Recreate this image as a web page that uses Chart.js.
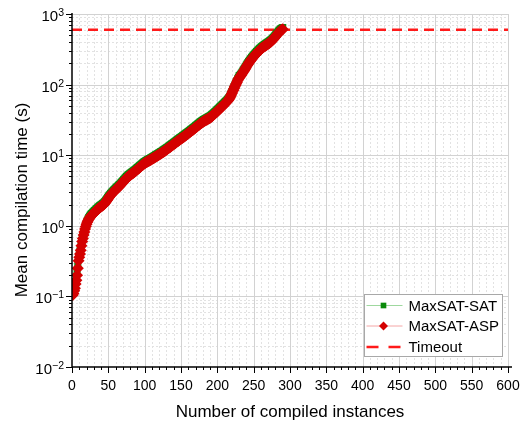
<!DOCTYPE html>
<html>
<head>
<meta charset="utf-8">
<script src="https://cdn.jsdelivr.net/npm/chart.js@4.4.1/dist/chart.umd.min.js"></script>
<style>
  html, body { margin: 0; padding: 0; background: #fff; }
</style>
</head>
<body>
<canvas id="cactus" width="521" height="425"></canvas>
<script>
// mean compilation time (s) per instance, sorted ascending (cactus plot)
const satTimes = [
  0.11, 0.12, 0.13, 0.14, 0.16, 0.19, 0.22, 0.27, 0.34, 0.39,
  0.44, 0.5, 0.57, 0.65, 0.72, 0.8, 0.88, 0.96, 1.04, 1.12,
  1.19, 1.25, 1.31, 1.36, 1.41, 1.45, 1.49, 1.53, 1.57, 1.61,
  1.64, 1.68, 1.72, 1.76, 1.8, 1.84, 1.88, 1.92, 1.95, 1.99,
  2.02, 2.06, 2.1, 2.15, 2.2, 2.27, 2.35, 2.43, 2.52, 2.61,
  2.7, 2.78, 2.86, 2.94, 3.02, 3.1, 3.18, 3.26, 3.34, 3.42,
  3.5, 3.58, 3.66, 3.75, 3.84, 3.93, 4.03, 4.14, 4.25, 4.37,
  4.5, 4.62, 4.75, 4.87, 5.0, 5.11, 5.22, 5.33, 5.43, 5.53,
  5.63, 5.73, 5.83, 5.94, 6.05, 6.16, 6.28, 6.41, 6.55, 6.68,
  6.82, 6.96, 7.1, 7.25, 7.4, 7.55, 7.7, 7.85, 8.0, 8.14,
  8.27, 8.4, 8.52, 8.63, 8.75, 8.86, 8.98, 9.1, 9.22, 9.35,
  9.49, 9.63, 9.78, 9.92, 10.1, 10.2, 10.4, 10.5, 10.7, 10.8,
  11.0, 11.2, 11.3, 11.5, 11.7, 11.9, 12.1, 12.3, 12.5, 12.7,
  12.9, 13.1, 13.4, 13.6, 13.9, 14.1, 14.4, 14.6, 14.9, 15.2,
  15.4, 15.7, 16.0, 16.3, 16.6, 16.9, 17.2, 17.5, 17.8, 18.1,
  18.4, 18.8, 19.1, 19.4, 19.8, 20.1, 20.5, 20.9, 21.2, 21.6,
  22.0, 22.4, 22.9, 23.3, 23.7, 24.2, 24.6, 25.1, 25.6, 26.1,
  26.6, 27.1, 27.7, 28.2, 28.7, 29.3, 29.8, 30.3, 30.9, 31.4,
  31.9, 32.3, 32.8, 33.2, 33.6, 34.0, 34.5, 35.0, 35.5, 36.0,
  36.7, 37.4, 38.2, 39.0, 39.9, 40.7, 41.6, 42.5, 43.5, 44.5,
  45.6, 46.6, 47.7, 48.9, 50.0, 51.2, 52.4, 53.6, 54.9, 56.2,
  57.6, 59.0, 60.4, 62.0, 63.6, 65.7, 68.4, 71.6, 75.3, 79.5,
  83.7, 88.5, 93.3, 98.6, 104, 109, 114, 121, 127, 134,
  136, 140, 145, 150, 156, 162, 169, 175, 182, 190,
  197, 205, 212, 219, 227, 234, 242, 249, 257, 264,
  271, 279, 286, 294, 301, 308, 316, 323, 331, 338,
  345, 352, 358, 365, 371, 377, 384, 390, 396, 403,
  409, 417, 424, 433, 442, 453, 464, 477, 491, 506,
  521, 537, 553, 569, 585, 600, 613, 624, 634, 642
];

const aspTimes = [
  0.105, 0.11, 0.12, 0.13, 0.15, 0.17, 0.2, 0.25, 0.32, 0.36,
  0.4, 0.45, 0.52, 0.6, 0.66, 0.74, 0.82, 0.9, 0.98, 1.05,
  1.12, 1.18, 1.24, 1.28, 1.33, 1.37, 1.41, 1.45, 1.48, 1.52,
  1.55, 1.58, 1.62, 1.66, 1.7, 1.73, 1.77, 1.8, 1.84, 1.87,
  1.9, 1.94, 1.98, 2.02, 2.07, 2.13, 2.2, 2.28, 2.36, 2.45,
  2.54, 2.62, 2.7, 2.78, 2.86, 2.93, 3.0, 3.07, 3.15, 3.22,
  3.3, 3.37, 3.45, 3.53, 3.62, 3.7, 3.8, 3.9, 4.0, 4.12,
  4.24, 4.36, 4.48, 4.6, 4.72, 4.83, 4.93, 5.03, 5.12, 5.22,
  5.31, 5.4, 5.5, 5.6, 5.7, 5.81, 5.93, 6.05, 6.18, 6.3,
  6.43, 6.56, 6.7, 6.84, 6.98, 7.12, 7.26, 7.4, 7.54, 7.68,
  7.8, 7.92, 8.03, 8.14, 8.25, 8.36, 8.47, 8.58, 8.7, 8.82,
  8.95, 9.08, 9.22, 9.36, 9.5, 9.64, 9.78, 9.92, 10.1, 10.2,
  10.4, 10.5, 10.7, 10.9, 11.0, 11.2, 11.4, 11.6, 11.8, 12.0,
  12.2, 12.4, 12.6, 12.9, 13.1, 13.3, 13.6, 13.8, 14.1, 14.3,
  14.6, 14.8, 15.1, 15.4, 15.7, 15.9, 16.2, 16.5, 16.8, 17.1,
  17.4, 17.7, 18.0, 18.3, 18.6, 19.0, 19.3, 19.7, 20.0, 20.4,
  20.8, 21.2, 21.6, 22.0, 22.4, 22.8, 23.2, 23.7, 24.1, 24.6,
  25.1, 25.6, 26.1, 26.6, 27.1, 27.6, 28.1, 28.6, 29.1, 29.6,
  30.1, 30.5, 30.9, 31.3, 31.7, 32.1, 32.5, 33.0, 33.5, 34.0,
  34.6, 35.3, 36.0, 36.8, 37.6, 38.4, 39.2, 40.1, 41.0, 42.0,
  43.0, 44.0, 45.0, 46.1, 47.2, 48.3, 49.4, 50.6, 51.8, 53.0,
  54.3, 55.6, 57.0, 58.5, 60.0, 62.0, 64.5, 67.5, 71.0, 75.0,
  79.0, 83.5, 88.0, 93.0, 98.0, 103, 108, 114, 120, 124,
  128, 132, 137, 142, 147, 153, 159, 165, 172, 179,
  186, 193, 200, 207, 214, 221, 228, 235, 242, 249,
  256, 263, 270, 277, 284, 291, 298, 305, 312, 319,
  326, 332, 338, 344, 350, 356, 362, 368, 374, 380,
  386, 393, 400, 408, 417, 427, 438, 450, 463, 477,
  492, 507, 522, 537, 552, 566, 578, 589, 598, 606
];

const timeoutSec = 600;
const xTickValues = [0, 50, 100, 150, 200, 250, 300, 350, 400, 450, 500, 550, 600];
const yDecades = [-2, -1, 0, 1, 2, 3];
const seriesNames = ['MaxSAT-SAT', 'MaxSAT-ASP', 'Timeout'];

const FONT = '"Liberation Sans", Arial, sans-serif';
const GREEN = '#0a8a0a';
const RED = '#d40000';

const toPoints = arr => arr.map((t, i) => ({ x: i + 1, y: t }));

// axes, grid, tick labels and legend are drawn by hand for the origin-style look
const frame = {
  id: 'frame',
  beforeDatasetsDraw(chart) {
    const { ctx, chartArea: a, scales: { x, y } } = chart;
    ctx.save();

    // minor grid (dashed)
    ctx.lineWidth = 1;
    ctx.strokeStyle = '#e2e2e2';
    ctx.setLineDash([2, 2]);
    ctx.beginPath();
    for (let v = 10; v < 600; v += 10) {
      if (v % 50 === 0) continue;
      const px = Math.round(x.getPixelForValue(v)) + 0.5;
      ctx.moveTo(px, a.top); ctx.lineTo(px, a.bottom);
    }
    for (let d = -2; d < 3; d++) {
      for (let m = 2; m <= 9; m++) {
        const py = Math.round(y.getPixelForValue(m * Math.pow(10, d))) + 0.5;
        ctx.moveTo(a.left, py); ctx.lineTo(a.right, py);
      }
    }
    ctx.stroke();

    // major grid
    ctx.setLineDash([]);
    ctx.strokeStyle = '#d2d2d2';
    ctx.beginPath();
    xTickValues.forEach(v => {
      if (v === 0) return;
      const px = Math.round(x.getPixelForValue(v)) + 0.5;
      ctx.moveTo(px, a.top); ctx.lineTo(px, a.bottom);
    });
    yDecades.forEach(d => {
      if (d === -2) return;
      const py = Math.round(y.getPixelForValue(Math.pow(10, d))) + 0.5;
      ctx.moveTo(a.left, py); ctx.lineTo(a.right, py);
    });
    ctx.stroke();
    ctx.restore();
  },
  afterDatasetsDraw(chart) {
    const { ctx, chartArea: a, scales: { x, y } } = chart;
    ctx.save();
    ctx.strokeStyle = '#000';
    ctx.fillStyle = '#000';

    // axis lines
    ctx.lineWidth = 1.5;
    ctx.beginPath();
    ctx.moveTo(a.left, a.top - 1); ctx.lineTo(a.left, a.bottom);
    ctx.lineTo(a.right + 4, a.bottom);
    ctx.stroke();

    // tick marks
    ctx.lineWidth = 1;
    ctx.beginPath();
    for (let v = 0; v <= 600; v += 10) {
      const px = Math.round(x.getPixelForValue(v)) + 0.5;
      ctx.moveTo(px, a.bottom);
      ctx.lineTo(px, a.bottom + (v % 50 === 0 ? 6 : 3));
    }
    yDecades.forEach(d => {
      const py = Math.round(y.getPixelForValue(Math.pow(10, d))) + 0.5;
      ctx.moveTo(a.left, py); ctx.lineTo(a.left - 6, py);
      if (d === 3) return;
      for (let m = 2; m <= 9; m++) {
        const pm = Math.round(y.getPixelForValue(m * Math.pow(10, d))) + 0.5;
        ctx.moveTo(a.left, pm); ctx.lineTo(a.left - 3, pm);
      }
    });
    ctx.stroke();

    // x tick labels
    ctx.font = '14px ' + FONT;
    ctx.textAlign = 'center';
    ctx.textBaseline = 'alphabetic';
    xTickValues.forEach(v => {
      ctx.fillText(String(v), x.getPixelForValue(v), a.bottom + 23);
    });

    // y tick labels as powers of ten
    yDecades.forEach(d => {
      const py = y.getPixelForValue(Math.pow(10, d));
      const sup = d < 0 ? '\u2212' + (-d) : String(d);
      const xr = a.left - 8;
      ctx.textAlign = 'right';
      ctx.font = '10.5px ' + FONT;
      const w = ctx.measureText(sup).width;
      ctx.fillText(sup, xr, py + 2);
      ctx.font = '15px ' + FONT;
      ctx.fillText('10', xr - w, py + 7);
    });

    // axis titles
    ctx.font = '17px ' + FONT;
    ctx.textAlign = 'center';
    ctx.fillText('Number of compiled instances', (a.left + a.right) / 2, 417);
    ctx.save();
    ctx.translate(27, 200);
    ctx.rotate(-Math.PI / 2);
    ctx.fillText('Mean compilation time (s)', 0, 0);
    ctx.restore();

    ctx.restore();
  },
  afterDraw(chart) {
    const { ctx, chartArea: a } = chart;
    const bx = a.right - 143.5, by = a.bottom - 72.5, bw = 138, bh = 62;
    ctx.save();
    ctx.fillStyle = '#fff';
    ctx.fillRect(bx, by, bw, bh);
    ctx.strokeStyle = '#a8a8a8';
    ctx.lineWidth = 1;
    ctx.strokeRect(bx, by, bw, bh);

    const rows = [by + 11, by + 31.5, by + 52.5];
    const lx0 = bx + 2, lx1 = bx + 38, mx = bx + 19;

    // MaxSAT-SAT
    ctx.strokeStyle = '#9fd89f';
    ctx.beginPath(); ctx.moveTo(lx0, rows[0]); ctx.lineTo(lx1, rows[0]); ctx.stroke();
    ctx.fillStyle = GREEN;
    Chart.helpers.drawPoint(ctx, { pointStyle: 'rect', radius: 4, rotation: 0, borderWidth: 0 }, mx, rows[0]);

    // MaxSAT-ASP
    ctx.strokeStyle = '#f4a6a6';
    ctx.beginPath(); ctx.moveTo(lx0, rows[1]); ctx.lineTo(lx1, rows[1]); ctx.stroke();
    ctx.fillStyle = RED;
    Chart.helpers.drawPoint(ctx, { pointStyle: 'rectRot', radius: 4.5, rotation: 0, borderWidth: 0 }, mx, rows[1]);

    // Timeout
    ctx.strokeStyle = '#ff1a1a';
    ctx.lineWidth = 2.5;
    ctx.beginPath();
    ctx.moveTo(lx0, rows[2]); ctx.lineTo(lx0 + 12, rows[2]);
    ctx.moveTo(lx0 + 22, rows[2]); ctx.lineTo(lx0 + 34, rows[2]);
    ctx.stroke();

    ctx.fillStyle = '#000';
    ctx.font = '15px ' + FONT;
    ctx.textAlign = 'left';
    ctx.textBaseline = 'middle';
    seriesNames.forEach((n, i) => ctx.fillText(n, bx + 44, rows[i] + 1));
    ctx.restore();
  }
};

new Chart(document.getElementById('cactus'), {
  type: 'line',
  data: {
    datasets: [
      {
        label: seriesNames[0],
        data: toPoints(satTimes),
        borderColor: '#9fd89f',
        borderWidth: 1,
        backgroundColor: GREEN,
        pointStyle: 'rect',
        pointRadius: 5,
        pointBorderWidth: 0,
        order: 2
      },
      {
        label: seriesNames[1],
        data: toPoints(aspTimes),
        borderColor: '#f4a6a6',
        borderWidth: 1,
        backgroundColor: RED,
        pointStyle: 'rectRot',
        pointRadius: 6,
        pointBorderWidth: 0,
        order: 1
      },
      {
        label: seriesNames[2],
        data: [{ x: 0, y: timeoutSec }, { x: 600, y: timeoutSec }],
        borderColor: '#ff1a1a',
        borderWidth: 2.5,
        borderDash: [10, 6],
        pointRadius: 0,
        order: 3
      }
    ]
  },
  options: {
    responsive: false,
    animation: false,
    devicePixelRatio: 1,
    layout: { padding: { left: 72, right: 13, top: 14, bottom: 58 } },
    scales: {
      x: { type: 'linear', min: 0, max: 600, display: false },
      y: { type: 'logarithmic', min: 0.01, max: 1000, display: false }
    },
    plugins: {
      legend: { display: false },
      tooltip: { enabled: false }
    }
  },
  plugins: [frame]
});
</script>
</body>
</html>
